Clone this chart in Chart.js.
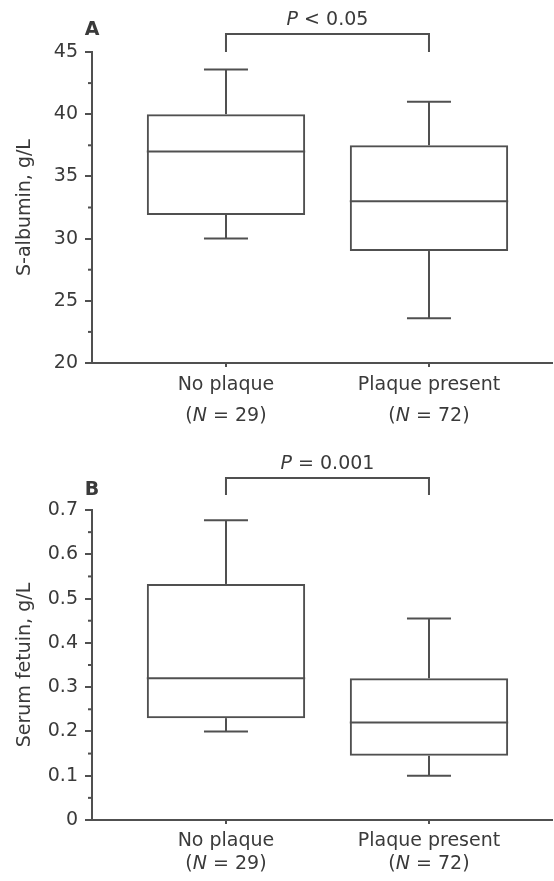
<!DOCTYPE html>
<html>
<head>
<meta charset="utf-8">
<title>S-albumin and serum fetuin by plaque status</title>
<script src="https://cdn.jsdelivr.net/npm/chart.js@4.4.1/dist/chart.umd.min.js"></script>
<style>
  body{margin:0;background:#fff}
  canvas{display:block}
</style>
</head>
<body>
<canvas id="chartA" width="554" height="440"></canvas>
<canvas id="chartB" width="554" height="441"></canvas>
<script>
// ----- data -----
const groups = ["No plaque", "Plaque present"];
const groupN = [29, 72];
const groupPos = [1, 2];

// S-albumin, g/L
const albTicks = [20, 25, 30, 35, 40, 45];
const albLow = [30.0, 23.6];
const albQ1 = [31.9, 29.0];
const albMedian = [37.0, 33.0];
const albQ3 = [40.0, 37.5];
const albHigh = [43.6, 41.0];

// Serum fetuin, g/L
const fetTicks = [0, 0.1, 0.2, 0.3, 0.4, 0.5, 0.6, 0.7];
const fetLow = [0.20, 0.10];
const fetQ1 = [0.23, 0.145];
const fetMedian = [0.32, 0.22];
const fetQ3 = [0.533, 0.32];
const fetHigh = [0.677, 0.455];

// ----- style -----
const LINE = "#505050";
const TEXT = "#3a3a3a";
const FAMILY = "'DejaVu Sans', Arial, sans-serif";
const FONT = { family: FAMILY, size: 19 };

function seg(ctx, x1, y1, x2, y2){
  ctx.beginPath(); ctx.moveTo(x1, y1); ctx.lineTo(x2, y2); ctx.stroke();
}

// draws a row of [text, italic] parts centred on cx
function richText(ctx, parts, cx, y){
  const fonts = parts.map(p => (p[1] ? "italic " : "") + FONT.size + "px " + FAMILY);
  let total = 0;
  const widths = parts.map((p, i) => { ctx.font = fonts[i]; const w = ctx.measureText(p[0]).width; total += w; return w; });
  let x = cx - total / 2;
  ctx.textAlign = "left";
  parts.forEach((p, i) => { ctx.font = fonts[i]; ctx.fillText(p[0], x, y); x += widths[i]; });
}

// whiskers, medians, minor ticks, bracket, panel letter, group labels
const boxExtras = {
  id: "boxExtras",
  afterDatasetsDraw(chart, args, o){
    const { ctx } = chart;
    const ys = chart.scales.y;
    const bars = chart.getDatasetMeta(0).data;
    ctx.save();
    ctx.strokeStyle = LINE;
    ctx.lineWidth = 2;
    bars.forEach((bar, i) => {
      const { x, width } = bar.getProps(["x", "width"], true);
      const med = ys.getPixelForValue(o.median[i]);
      seg(ctx, x - width / 2, med, x + width / 2, med);
      const q3 = ys.getPixelForValue(o.q3[i]), hi = ys.getPixelForValue(o.high[i]);
      const q1 = ys.getPixelForValue(o.q1[i]), lo = ys.getPixelForValue(o.low[i]);
      seg(ctx, x, q3, x, hi);
      seg(ctx, x - o.cap, hi, x + o.cap, hi);
      seg(ctx, x, q1, x, lo);
      seg(ctx, x - o.cap, lo, x + o.cap, lo);
    });
    ctx.restore();
  },
  afterDraw(chart, args, o){
    const { ctx, chartArea } = chart;
    const xs = chart.scales.x, ys = chart.scales.y;
    ctx.save();
    ctx.strokeStyle = LINE;
    ctx.lineWidth = 2;
    // minor ticks halfway between the labelled ones
    const n = Math.round((ys.max - ys.min) / o.minorStep);
    for (let k = 1; k < n; k += 2){
      const py = ys.getPixelForValue(ys.min + k * o.minorStep);
      seg(ctx, chartArea.left - 4, py, chartArea.left, py);
    }
    // significance bracket
    const bx1 = xs.getPixelForValue(groupPos[0]), bx2 = xs.getPixelForValue(groupPos[1]);
    const by = ys.getPixelForValue(o.bracket), leg = ys.getPixelForValue(o.bracketLeg);
    ctx.beginPath();
    ctx.moveTo(bx1, leg); ctx.lineTo(bx1, by); ctx.lineTo(bx2, by); ctx.lineTo(bx2, leg);
    ctx.stroke();
    ctx.fillStyle = TEXT;
    ctx.textBaseline = "alphabetic";
    richText(ctx, o.pText, (bx1 + bx2) / 2, by - 9);
    // panel letter
    ctx.font = "bold " + FONT.size + "px " + FAMILY;
    ctx.textAlign = "center";
    ctx.fillText(o.letter, chartArea.left, chartArea.top - o.letterGap);
    // group labels under the axis
    groups.forEach((g, i) => {
      const cx = xs.getPixelForValue(groupPos[i]);
      richText(ctx, [[g, false]], cx, chartArea.bottom + o.rows[0]);
      richText(ctx, [["(", false], ["N", true], [" = " + groupN[i] + ")", false]], cx, chartArea.bottom + o.rows[1]);
    });
    ctx.restore();
  }
};

function boxChart(id, cfg){
  const boxes = groupPos.map((x, i) => ({ x, y: [cfg.q1[i], cfg.q3[i]] }));
  return new Chart(document.getElementById(id), {
    type: "bar",
    data: {
      datasets: [{
        data: boxes,
        backgroundColor: "rgba(0,0,0,0)",
        borderColor: LINE,
        borderWidth: 2,
        borderSkipped: false,
        categoryPercentage: 1,
        barPercentage: 0.78
      }]
    },
    options: {
      responsive: false,
      animation: false,
      layout: { padding: { top: cfg.top, right: 2, left: 0, bottom: 0 } },
      plugins: {
        legend: { display: false },
        tooltip: { enabled: false },
        boxExtras: {
          median: cfg.median, q1: cfg.q1, q3: cfg.q3, low: cfg.low, high: cfg.high,
          cap: 22, minorStep: cfg.minorStep,
          bracket: cfg.bracket, bracketLeg: cfg.bracketLeg, pText: cfg.pText,
          letter: cfg.letter, letterGap: cfg.letterGap, rows: cfg.rows
        }
      },
      scales: {
        x: {
          type: "linear",
          offset: false,
          min: 0.34,
          max: 2.606,
          afterBuildTicks: s => { s.ticks = groupPos.map(v => ({ value: v })); },
          afterFit: s => { s.height = cfg.xHeight; },
          ticks: { display: false },
          grid: { offset: false, drawOnChartArea: false, tickLength: 4, color: LINE, lineWidth: 2 },
          border: { color: LINE, width: 2 }
        },
        y: {
          min: cfg.ticks[0],
          max: cfg.ticks[cfg.ticks.length - 1],
          afterBuildTicks: s => { s.ticks = cfg.ticks.map(v => ({ value: v })); },
          afterFit: s => { s.width = 92; },
          ticks: { color: TEXT, font: FONT, padding: 7 },
          grid: { drawOnChartArea: false, tickLength: 7, color: LINE, lineWidth: 2 },
          border: { color: LINE, width: 2 },
          title: { display: true, text: cfg.title, color: TEXT, font: FONT, padding: { top: 14, bottom: 0 } }
        }
      }
    },
    plugins: [boxExtras]
  });
}

boxChart("chartA", {
  ticks: albTicks, q1: albQ1, q3: albQ3, median: albMedian, low: albLow, high: albHigh,
  minorStep: 2.5, bracket: 46.45, bracketLeg: 45,
  pText: [["P", true], [" < 0.05", false]],
  title: "S-albumin, g/L", letter: "A", letterGap: 17,
  top: 52, xHeight: 77, rows: [27, 58]
});

boxChart("chartB", {
  ticks: fetTicks, q1: fetQ1, q3: fetQ3, median: fetMedian, low: fetLow, high: fetHigh,
  minorStep: 0.05, bracket: 0.772, bracketLeg: 0.734,
  pText: [["P", true], [" = 0.001", false]],
  title: "Serum fetuin, g/L", letter: "B", letterGap: 15,
  top: 70, xHeight: 61, rows: [26, 49]
});
</script>
</body>
</html>
